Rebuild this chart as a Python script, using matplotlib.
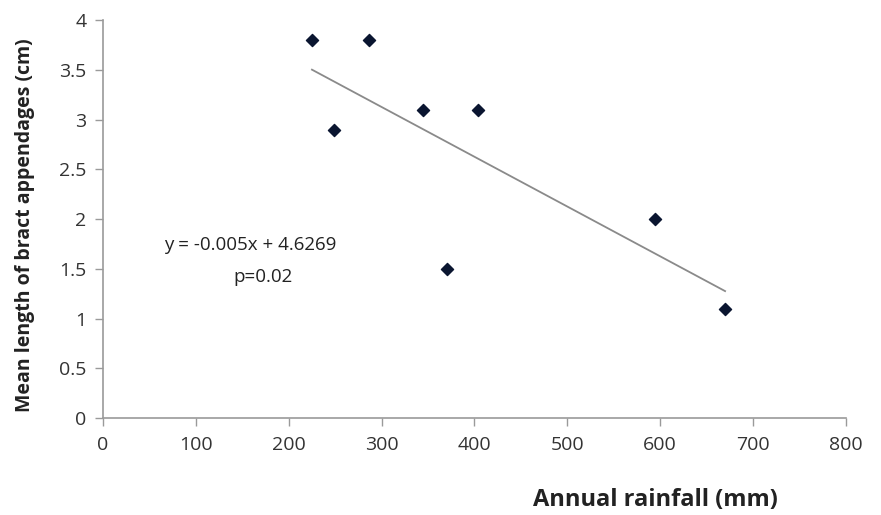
import matplotlib
matplotlib.use("Agg")
import matplotlib.pyplot as plt
import numpy as np

# data
rainfall = [225, 249, 286, 345, 370, 404, 594, 670]
bract_len = [3.8, 2.9, 3.8, 3.1, 1.5, 3.1, 2.0, 1.1]
slope = -0.005
intercept = 4.6269
x_ticks = [0, 100, 200, 300, 400, 500, 600, 700, 800]
y_ticks = [0, 0.5, 1, 1.5, 2, 2.5, 3, 3.5, 4]

plt.rcParams['font.family'] = ['Open Sans', 'DejaVu Sans']

fig = plt.figure(figsize=(8.81, 5.15), dpi=100)
ax = fig.add_axes([0.117, 0.188, 0.843, 0.773])

ax.scatter(rainfall, bract_len, marker='D', s=38, color='#0a1530', zorder=3)

xl = np.array([min(rainfall), max(rainfall)])
ax.plot(xl, slope * xl + intercept, color='#8a8a8a', lw=1.3)

ax.set_xlim(0, 800)
ax.set_ylim(0, 4)
ax.set_xticks(x_ticks)
ax.set_yticks(y_ticks)
ax.set_yticklabels(['0', '0.5', '1', '1.5', '2', '2.5', '3', '3.5', '4'])

for s in ['top', 'right']:
    ax.spines[s].set_visible(False)
for s in ['left', 'bottom']:
    ax.spines[s].set_color('#9a9a9a')
    ax.spines[s].set_linewidth(1.2)
ax.tick_params(colors='#9a9a9a', length=6, width=1.0, labelcolor='#333333', labelsize=14)
ax.tick_params(axis='x', pad=7)
ax.tick_params(axis='y', pad=6)

ax.text(158, 1.74, 'y = -0.005x + 4.6269', ha='center', va='center', fontsize=13.5, color='#222222')
ax.text(172, 1.42, 'p=0.02', ha='center', va='center', fontsize=13.5, color='#222222')

fig.text(655 / 881, 1 - 500 / 515, 'Annual rainfall (mm)', ha='center', va='center',
         fontsize=17, fontweight='bold', color='#222222')
fig.text(25 / 881, 1 - 225 / 515, 'Mean length of bract appendages (cm)', ha='center', va='center',
         rotation=90, fontsize=14, fontweight='bold', color='#222222')

fig.savefig('out.png', dpi=100)
